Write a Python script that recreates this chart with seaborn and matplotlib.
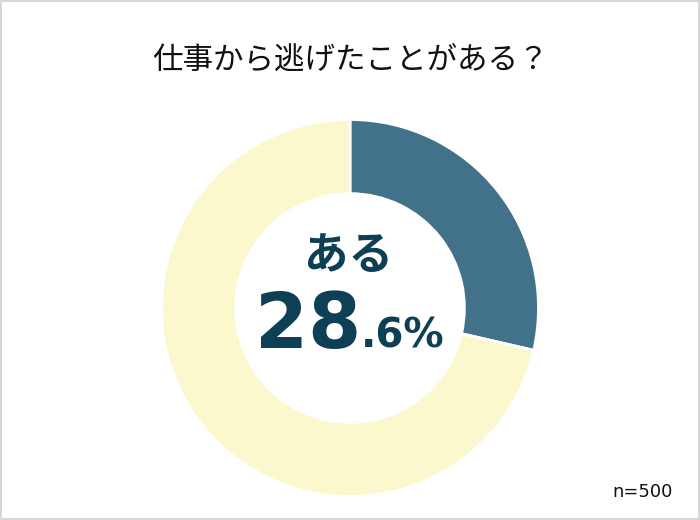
import matplotlib
matplotlib.use("Agg")
import matplotlib.pyplot as plt
from matplotlib.patches import Rectangle
import seaborn as sns

# data
labels = ["ある", "ない"]
shares = [28.6, 71.4]
colors = ["#41728a", "#faf8cc"]
title = "仕事から逃げたことがある？"
n_label = "n=500"

sns.set_theme(style="white")
plt.rcParams["font.family"] = ["Noto Sans CJK JP", "DejaVu Sans"]

fig = plt.figure(figsize=(7, 5.2), dpi=100)
fig.patch.set_facecolor("white")

# donut axes, centre about (350, 308) px from top
ax = fig.add_axes([160 / 700, 22 / 520, 380 / 700, 380 / 520])
ax.pie(shares, colors=colors, startangle=90, counterclock=False,
       radius=188.5 / 190,
       wedgeprops=dict(width=0.39, edgecolor="white", linewidth=2))
ax.set_xlim(-1, 1)
ax.set_ylim(-1, 1)
ax.set_aspect("equal")
ax.axis("off")

fig.text(0.5, 1 - 60 / 520, title, ha="center", va="center",
         fontsize=22, color="#111111")

txt_color = "#0d3f55"
pct = f"{shares[0]:.1f}"
whole, frac = pct.split(".")
fig.text(348 / 700, 1 - 256 / 520, labels[0], ha="center", va="center",
         fontsize=32, fontweight="bold", color=txt_color)
fig.text(361 / 700, 1 - 348 / 520, whole, ha="right", va="baseline",
         fontsize=55, fontweight="bold", color=txt_color, family="DejaVu Sans")
fig.text(361 / 700, 1 - 348 / 520, "." + frac + "%", ha="left", va="baseline",
         fontsize=29, fontweight="bold", color=txt_color, family="DejaVu Sans")

fig.text(673 / 700, 1 - 497 / 520, n_label, ha="right", va="baseline",
         fontsize=13, color="#111111", family="DejaVu Sans")

# light frame round the picture
fig.patches.append(Rectangle((0.001, 0.001), 0.997, 0.997, transform=fig.transFigure,
                             fill=False, edgecolor="#d0d0d0", linewidth=1.2))

fig.savefig("out.png", dpi=100, facecolor="white")
